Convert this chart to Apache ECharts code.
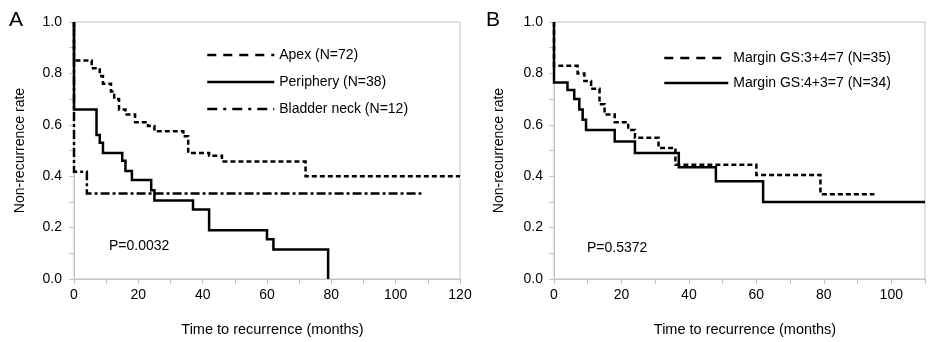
<!DOCTYPE html>
<html>
<head>
<meta charset="utf-8">
<script src="https://cdn.jsdelivr.net/npm/echarts@6/dist/echarts.min.js"></script>
<style>html,body{margin:0;padding:0;background:#fff}#c{width:928px;height:342px}</style>
</head>
<body>
<div id="c"></div>
<script>
// Panel A data (time in months, non-recurrence rate)
var apexT = [0, 0, 5.5, 8, 9, 11.5, 12.5, 14, 16, 19, 23, 25, 34, 35.5, 42, 46, 72, 120];
var apexS = [1, 0.85, 0.82, 0.79, 0.76, 0.73, 0.70, 0.66, 0.64, 0.61, 0.595, 0.575, 0.555, 0.49, 0.48, 0.457, 0.40, 0.40];
var periT = [0, 0, 7, 8, 9, 15, 16, 18, 24, 25, 37, 42, 60, 62, 79];
var periS = [1, 0.66, 0.56, 0.53, 0.49, 0.46, 0.42, 0.385, 0.345, 0.305, 0.27, 0.19, 0.155, 0.115, 0];
var bladT = [0, 0, 4, 108];
var bladS = [1, 0.417, 0.333, 0.333];
// Panel B data
var g34T = [0, 0, 7, 9, 11, 13.5, 15, 18, 22, 24, 31, 36, 60, 79, 95];
var g34S = [1, 0.83, 0.80, 0.77, 0.74, 0.68, 0.64, 0.61, 0.58, 0.55, 0.51, 0.445, 0.405, 0.33, 0.33];
var g43T = [0, 0, 4, 6, 7.5, 8.5, 9.5, 18, 24, 37, 48, 62, 110];
var g43S = [1, 0.765, 0.735, 0.70, 0.66, 0.62, 0.58, 0.535, 0.49, 0.435, 0.38, 0.30, 0.30];

var namesA = ['Apex (N=72)', 'Periphery (N=38)', 'Bladder neck (N=12)'];
var namesB = ['Margin GS:3+4=7 (N=35)', 'Margin GS:4+3=7 (N=34)'];
var pA = 'P=0.0032', pB = 'P=0.5372';
var xName = 'Time to recurrence (months)';
var yName = 'Non-recurrence rate';

function zip(t, s) { return t.map(function (v, i) { return [v, s[i]]; }); }

var FONT = '"Liberation Sans", Arial, Helvetica, sans-serif';
var GREY = '#c4c4c4';
var NOSYM = { color: 'rgba(0,0,0,0)', borderColor: 'rgba(0,0,0,0)', borderWidth: 0 };

function xAxis(idx, max) {
  return {
    gridIndex: idx, type: 'value', min: 0, max: max, interval: 10,
    name: xName, nameLocation: 'middle', nameGap: 43,
    nameTextStyle: { fontFamily: FONT, fontSize: 14.5, color: '#000', padding: [0, 0, 0, 11] },
    axisLine: { show: true, lineStyle: { color: GREY, width: 1 } },
    axisTick: { show: true, length: 5, lineStyle: { color: GREY } },
    splitLine: { show: false },
    axisLabel: {
      margin: 9, fontFamily: FONT, fontSize: 14, color: '#000',
      formatter: function (v) { return Math.round(v) % 20 === 0 ? String(Math.round(v)) : ''; }
    }
  };
}
function yAxis(idx, margin, gap) {
  return {
    gridIndex: idx, type: 'value', min: 0, max: 1, interval: 0.1,
    name: yName, nameLocation: 'middle', nameGap: gap, nameRotate: 90,
    nameTextStyle: { fontFamily: FONT, fontSize: 14, color: '#000' },
    axisLine: { show: true, lineStyle: { color: GREY, width: 1 } },
    axisTick: { show: true, length: 5, lineStyle: { color: GREY } },
    splitLine: { show: false },
    axisLabel: {
      margin: margin, fontFamily: FONT, fontSize: 14, color: '#000',
      formatter: function (v) { var k = Math.round(v * 10); return k % 2 === 0 ? (k / 10).toFixed(1) : ''; }
    }
  };
}
function km(name, t, s, xi, dash, z) {
  return {
    name: name, type: 'line', step: 'end', xAxisIndex: xi, yAxisIndex: xi,
    data: zip(t, s), symbol: 'none', z: z, animation: false,
    lineStyle: { color: '#000', width: 2.5, type: dash, cap: 'butt', join: 'miter' },
    itemStyle: { color: '#000' }
  };
}

var chart = echarts.init(document.getElementById('c'), null, { renderer: 'canvas' });
chart.setOption({
  animation: false,
  backgroundColor: '#fff',
  grid: [
    { left: 74, top: 22, width: 386, height: 260, show: true, borderColor: GREY, borderWidth: 1 },
    { left: 554, top: 22, width: 387, height: 260, show: true, borderColor: GREY, borderWidth: 1 }
  ],
  xAxis: [xAxis(0, 120), xAxis(1, 110)],
  yAxis: [yAxis(0, 12, 47), yAxis(1, 11, 48)],
  legend: [
    {
      orient: 'vertical', left: 206, top: 48, padding: 0, itemWidth: 67, itemHeight: 14, itemGap: 13,
      textStyle: { fontFamily: FONT, fontSize: 14, color: '#000' },
      data: [
        { name: namesA[0], itemStyle: NOSYM, lineStyle: { type: [9, 7], width: 2.5 } },
        { name: namesA[1], itemStyle: NOSYM, lineStyle: { type: 'solid', width: 2.5 } },
        { name: namesA[2], itemStyle: NOSYM, lineStyle: { type: [10, 6, 3, 6], width: 2.5 } }
      ]
    },
    {
      orient: 'vertical', left: 663, top: 51, padding: 0, itemWidth: 64, itemHeight: 14, itemGap: 11,
      textStyle: { fontFamily: FONT, fontSize: 14, color: '#000' },
      data: [
        { name: namesB[0], itemStyle: NOSYM, lineStyle: { type: [9, 7], width: 2.5 } },
        { name: namesB[1], itemStyle: NOSYM, lineStyle: { type: 'solid', width: 2.5 } }
      ]
    }
  ],
  series: [
    km(namesA[1], periT, periS, 0, 'solid', 3),
    km(namesA[0], apexT, apexS, 0, [5, 3], 4),
    km(namesA[2], bladT, bladS, 0, [9, 3, 3, 3], 4),
    km(namesB[1], g43T, g43S, 1, 'solid', 3),
    km(namesB[0], g34T, g34S, 1, [5, 3], 4)
  ],
  graphic: [
    { type: 'text', left: 9, top: 10, style: { text: 'A', font: '21px ' + FONT, fill: '#000' } },
    { type: 'text', left: 486, top: 10, style: { text: 'B', font: '21px ' + FONT, fill: '#000' } },
    { type: 'text', left: 109, top: 239, style: { text: pA, font: '14px ' + FONT, fill: '#000' } },
    { type: 'text', left: 587, top: 241, style: { text: pB, font: '14px ' + FONT, fill: '#000' } }
  ]
});
</script>
</body>
</html>
